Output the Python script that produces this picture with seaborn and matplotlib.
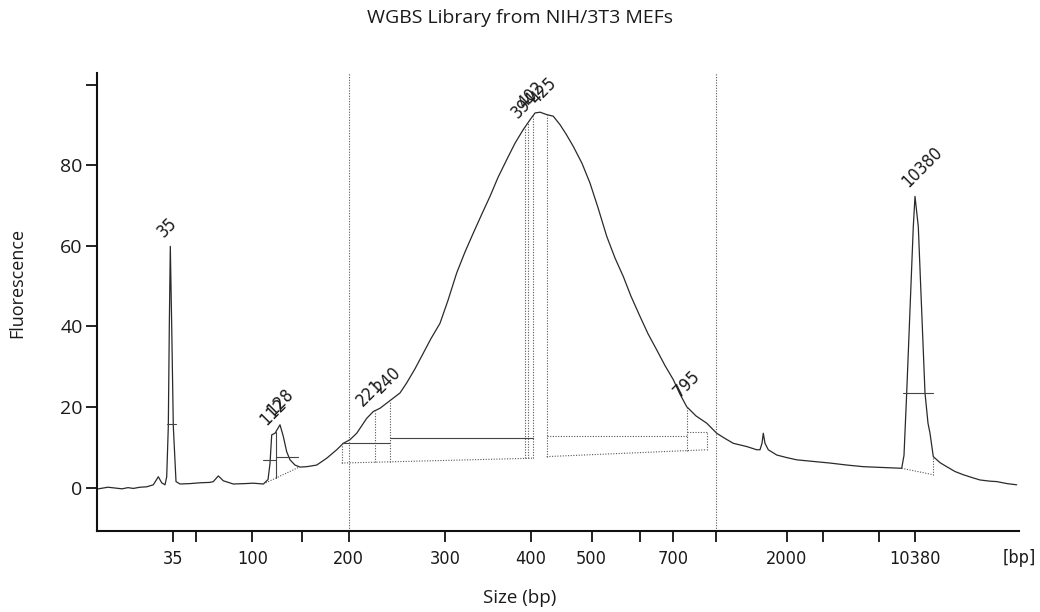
import numpy as np
import pandas as pd
import matplotlib
matplotlib.use("Agg")
import matplotlib.pyplot as plt
import seaborn as sns

# ---------------- data ----------------
# migration time (s) of the ladder fragments and their sizes (bp)
ladder_bp = [35, 50, 100, 150, 200, 300, 400, 500, 600, 700, 1000, 2000, 3000, 7000, 10380]
ladder_time = [42.27, 44.57, 50.23, 55.17, 59.87, 69.53, 78.10, 84.17, 89.00, 92.33,
               96.57, 103.67, 107.27, 112.93, 116.50]
ladder_shown = [True, False, True, False, True, True, True, True, False, True,
                False, True, False, False, True]

# electropherogram trace
time_s = [34.83, 35.8, 36.5, 37.2, 37.8, 38.33, 39.0, 39.67, 40.33, 40.83, 41.17, 41.5,
          41.67, 41.83, 41.93, 42.03, 42.17, 42.33, 42.6, 43.0, 44.0, 45.0, 46.0, 46.33,
          46.83, 47.33, 48.33, 49.5, 50.33, 51.33, 51.8, 52.0, 52.17, 52.5, 53.0, 53.33,
          53.67, 54.0, 54.5, 55.0, 55.67, 56.67, 57.67, 58.67, 59.33, 60.0, 60.67, 61.67,
          62.33, 63.0, 64.0, 65.0, 65.67, 66.5, 67.33, 68.1, 69.0, 69.8, 70.67, 71.5,
          72.33, 73.2, 74.0, 74.8, 75.67, 76.5, 77.33, 78.0, 78.5, 79.0, 79.67, 80.33,
          81.0, 81.6, 82.33, 83.2, 84.0, 84.8, 85.67, 86.5, 87.33, 88.1, 89.0, 89.8,
          90.67, 91.5, 92.33, 93.0, 93.67, 94.6, 95.67, 96.67, 97.5, 98.33, 99.67, 100.67,
          101.0, 101.2, 101.33, 101.5, 101.83, 102.67, 103.6, 104.67, 106.3, 108.0, 109.7,
          111.33, 113.3, 115.17, 115.4, 115.67, 116.0, 116.33, 116.5, 116.83, 117.17,
          117.5, 117.8, 118.0, 118.33, 119.0, 119.67, 120.5, 121.33, 122.2, 123.0, 124.0,
          124.67, 125.7, 126.67]
fluorescence = [-0.3, 0.1, -0.1, -0.3, 0.0, -0.2, 0.1, 0.2, 0.7, 2.7, 1.2, 0.7,
                2.7, 15.2, 40.0, 59.9, 40.0, 15.2, 1.5, 0.9, 1.0, 1.2, 1.3, 1.5,
                2.9, 1.7, 0.9, 1.0, 1.1, 0.9, 2.0, 6.0, 13.1, 13.5, 15.6, 12.7,
                8.9, 6.9, 5.6, 5.1, 5.2, 5.6, 7.3, 9.4, 11.0, 11.9, 13.5, 17.2,
                18.9, 19.7, 21.6, 23.5, 26.0, 29.5, 33.4, 37.0, 40.8, 46.5, 53.3, 58.5,
                63.2, 68.0, 72.3, 77.0, 81.4, 85.5, 88.9, 91.3, 93.0, 93.2, 92.6, 92.2,
                90.1, 87.8, 84.7, 80.5, 75.6, 69.5, 62.4, 57.0, 52.4, 47.5, 42.5, 38.2,
                34.2, 30.3, 26.8, 23.2, 20.1, 17.8, 16.0, 13.5, 12.2, 11.0, 10.2, 9.4,
                9.4, 11.0, 13.5, 11.0, 9.4, 8.1, 7.5, 6.9, 6.5, 6.1, 5.6,
                5.2, 5.0, 4.8, 8.0, 23.5, 44.1, 64.8, 72.3, 64.8, 44.1,
                23.5, 16.0, 13.5, 7.7, 6.2, 5.2, 4.0, 3.2, 2.5, 1.9, 1.6,
                1.5, 1.0, 0.7]

# called peaks
peak_labels = ["35", "112", "128", "221", "240", "394", "402", "425", "795", "10380"]
peak_time = [42.03, 52.3, 53.0, 62.0, 63.8, 77.5, 78.17, 79.3, 93.67, 116.5]

# region of interest (bp)
region_bp = [200, 1000]

# marker peaks: half-height bars (start, end, level)
marker_start = [41.67, 115.33]
marker_end = [42.6, 118.33]
marker_level = [15.7, 23.5]

# small-fragment peaks 112 / 128
small_edges = [51.33, 52.6, 54.83]
small_level = [6.9, 7.7]
small_base = [0.9, 5.0]

# smear windows (two groups)
smear1_edges = [59.17, 62.5, 64.0, 77.5, 77.83, 78.27]
smear1_top = [11.0, 11.0, 12.3, 12.3, 12.3]
smear1_base = [6.1, 7.3]
smear2_edges = [79.67, 93.67, 95.67]
smear2_top = [12.7, 13.7]
smear2_base = [7.7, 9.4]

# upper-marker baseline
upper_base_t = [115.17, 118.33]
upper_base_v = [4.8, 3.2]

# ---------------- style ----------------
sns.set_theme(style="ticks")
plt.rcParams["font.family"] = ["Open Sans", "DejaVu Sans"]

fig = plt.figure(figsize=(10.4, 6.12), dpi=100)
ax = fig.add_axes([0.0928, 0.1328, 0.8870, 0.7484])

trace = pd.DataFrame({"time": time_s, "fluor": fluorescence})
sns.lineplot(data=trace, x="time", y="fluor", ax=ax, color="#2a2a2a",
             linewidth=0.9, estimator=None, sort=False)

dot = dict(color="#555555", linewidth=0.8, linestyle=(0, (1, 1.4)))
solid = dict(color="#444444", linewidth=0.8)


def curve_at(t):
    return float(np.interp(t, time_s, fluorescence))


def base_at(t, edges, base):
    return float(np.interp(t, [edges[0], edges[-1]], base))


# region of interest lines
for bp in region_bp:
    ax.axvline(np.interp(bp, ladder_bp, ladder_time), **dot)

# marker half-height bars
for s, e, lv in zip(marker_start, marker_end, marker_level):
    ax.plot([s, e], [lv, lv], **solid)
ax.plot(upper_base_t, upper_base_v, **dot)
ax.plot([upper_base_t[1]] * 2, [upper_base_v[1], curve_at(upper_base_t[1])], **dot)

# small peaks
ax.plot([small_edges[0], small_edges[-1]], small_base, **dot)
for i, lv in enumerate(small_level):
    ax.plot([small_edges[i], small_edges[i + 1]], [lv, lv], **solid)
ax.plot([small_edges[1]] * 2, [base_at(small_edges[1], small_edges, small_base),
                               curve_at(small_edges[1])], **solid)

# smear group 1
ax.plot([smear1_edges[0], smear1_edges[-1]], smear1_base, **dot)
for i, tp in enumerate(smear1_top):
    ax.plot([smear1_edges[i], smear1_edges[i + 1]], [tp, tp], **solid)
for i, t in enumerate(smear1_edges):
    top = smear1_top[0] if i == 0 else curve_at(t)
    ax.plot([t, t], [base_at(t, smear1_edges, smear1_base), top], **dot)

# smear group 2
ax.plot([smear2_edges[0], smear2_edges[-1]], smear2_base, **dot)
for i, tp in enumerate(smear2_top):
    ax.plot([smear2_edges[i], smear2_edges[i + 1]], [tp, tp], **dot)
for i, t in enumerate(smear2_edges):
    top = smear2_top[-1] if i == len(smear2_edges) - 1 else curve_at(t)
    ax.plot([t, t], [base_at(t, smear2_edges, smear2_base), top], **dot)

narrow = dict(family=["DejaVu Sans"], fontstretch="condensed")

# peak labels
for lab, t in zip(peak_labels, peak_time):
    ax.annotate(lab, xy=(t, curve_at(t)), xytext=(-3, 4), textcoords="offset points",
                rotation=45, rotation_mode="anchor", ha="left", va="bottom",
                fontsize=12.5, color="#1a1a1a", **narrow)

# axes
ax.set_xlim(34.65, 126.9)
ax.set_ylim(-10.7, 103)
ax.set_yticks([0, 20, 40, 60, 80, 100])
ax.set_yticklabels(["0", "20", "40", "60", "80", ""], fontsize=14)
ax.set_xticks(ladder_time)
ax.set_xticklabels([str(b) if s else "" for b, s in zip(ladder_bp, ladder_shown)],
                   fontsize=13, **narrow)
ax.tick_params(axis="both", direction="out", length=8, width=1.3, color="#111111",
               labelcolor="#1a1a1a")
ax.tick_params(axis="x", pad=6)
ax.tick_params(axis="y", pad=2)
for side in ["top", "right"]:
    ax.spines[side].set_visible(False)
for side in ["left", "bottom"]:
    ax.spines[side].set_linewidth(1.5)
    ax.spines[side].set_color("#111111")
ax.grid(False)

ax.annotate("[bp]", xy=(126.9, 0), xycoords=("data", "axes fraction"),
            xytext=(0, -13.5), textcoords="offset points", ha="center", va="top",
            fontsize=13, color="#1a1a1a", **narrow)

ax.set_xlabel("Size (bp)", fontsize=13.5, color="#1a1a1a")
ax.set_ylabel("Fluorescence", fontsize=13, color="#1a1a1a")
ax.xaxis.set_label_coords(0.459, -0.128)
ax.yaxis.set_label_coords(-0.076, 0.541)

fig.suptitle("WGBS Library from NIH/3T3 MEFs", x=0.5, y=0.985, fontsize=14,
             color="#1a1a1a", va="top")

fig.savefig("out.png", dpi=100, facecolor="white")
